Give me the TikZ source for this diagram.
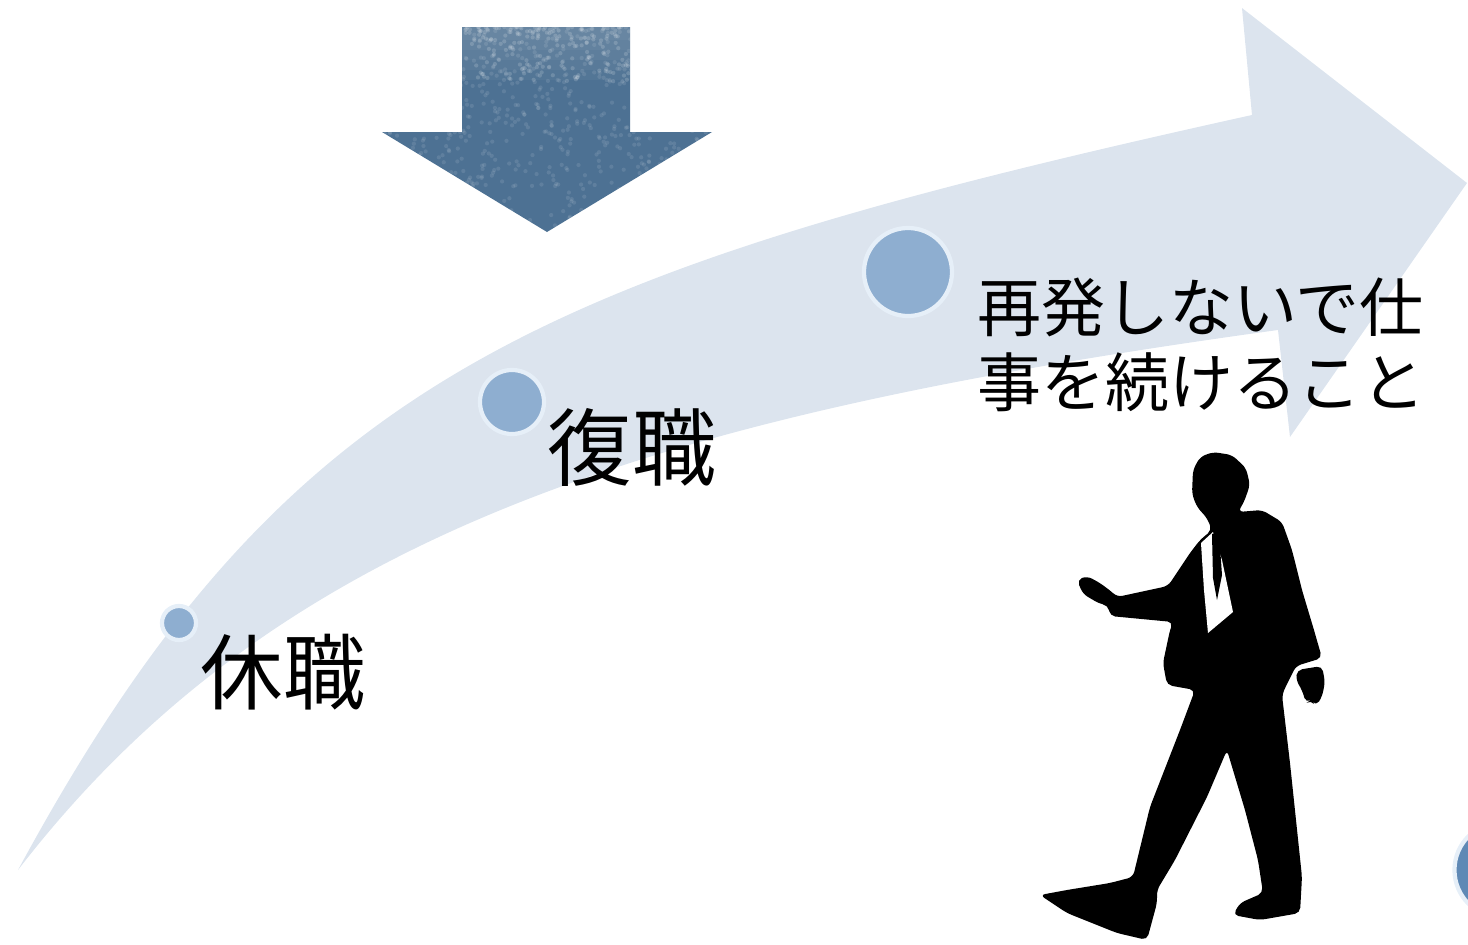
\documentclass[tikz,border=0pt]{standalone}
\usepackage{fontspec}
\newfontfamily\jpfont{Noto Sans CJK JP}
\definecolor{bandfill}{HTML}{DCE4EE}
\definecolor{dotfill}{HTML}{8EAED0}
\definecolor{dotring}{HTML}{E6EFF8}
\definecolor{steel}{HTML}{4D7193}
\definecolor{deepdot}{HTML}{5F89B5}
\begin{document}
\begin{tikzpicture}[x=0.01cm,y=-0.01cm,
  dot/.style={circle, fill=dotfill, draw=dotring, line width=1.2pt, inner sep=0pt},
  caption/.style={text=black, inner sep=0pt},
  figure/.style={fill=black, rounded corners=1.5pt},
]
\useasboundingbox (0,0) rectangle (1468,945);
\clip (0,0) rectangle (1468,945);

% curved band with its arrowhead
\fill[bandfill]
  (18,870) .. controls (285,377) and (537,273) .. (1252,115)
  -- (1242,8) -- (1467,183) -- (1290,437) -- (1278,330)
  .. controls (660,415) and (280,530) .. (18,870)
  -- cycle;

% textured down arrow, paler towards its top
\def\downarrow{(462,27) -- (630,27) -- (630,132) -- (712,132) -- (547,232) -- (382,132) -- (462,132) -- cycle}
\fill[steel] \downarrow;
\begin{scope}
  \clip \downarrow;
  \foreach \bot in {40,50,60,70,80} {
    \fill[white, opacity=0.035] (462,27) rectangle (630,\bot);
  }
  \pgfmathsetseed{11}
  \foreach \i in {1,...,700} {
    \pgfmathsetmacro\px{382+330*rnd}
    \pgfmathsetmacro\py{27+205*rnd}
    \fill[white, opacity=0.10] (\px,\py) circle[radius=0.6pt];
  }
  \foreach \i in {1,...,200} {
    \pgfmathsetmacro\px{462+168*rnd}
    \pgfmathsetmacro\py{27+55*rnd^2}
    \fill[white, opacity=0.16] (\px,\py) circle[radius=0.6pt];
  }
\end{scope}

% stage markers
\node[dot, minimum size=0.34cm] (d1) at (179,623) {};
\node[dot, minimum size=0.64cm] (d2) at (512,402) {};
\node[dot, minimum size=0.88cm] (d3) at (908,272) {};
\node[dot, fill=deepdot, minimum size=0.95cm] (d4) at (1502,870) {};

% stage labels
\node[caption, anchor=west, font=\jpfont\fontsize{23.5}{28}\selectfont] (l1) at (200,672) {休職};
\node[caption, anchor=west, font=\jpfont\fontsize{24}{28}\selectfont] (l2) at (547,447) {復職};
\node[caption, anchor=west, align=left, font=\jpfont\fontsize{18.2}{21.3}\selectfont] (l3) at (977,345) {再発しないで仕\\事を続けること};

% walking businessman
\fill[figure] (1213,452) -- (1232,455) -- (1246,468) -- (1250,485) -- (1244,502) -- (1238,512)
  -- (1262,510) -- (1282,522) -- (1292,550) -- (1302,590) -- (1314,630) -- (1322,658)
  -- (1296,666) -- (1286,686) -- (1282,695)
  -- (1290,763) -- (1302,877) -- (1300,913) -- (1260,920) -- (1233,915) -- (1240,903) -- (1263,893)
  -- (1258,860) -- (1245,810) -- (1227,750)
  -- (1207,797) -- (1175,860) -- (1157,890) -- (1157,903) -- (1147,940) -- (1117,933)
  -- (1067,913) -- (1040,895) -- (1067,890) -- (1110,883) -- (1133,877)
  -- (1150,807) -- (1180,730) -- (1195,690) -- (1167,685) -- (1163,663) -- (1170,630) -- (1173,622)
  -- (1110,616) -- (1108,605) -- (1100,604) -- (1083,594) -- (1077,580) -- (1087,576)
  -- (1100,583) -- (1112,592) -- (1117,597) -- (1168,586) -- (1190,553) -- (1200,540)
  -- (1212,530) -- (1207,518) -- (1197,507) -- (1192,494) -- (1193,470) -- (1200,457) -- cycle;
% rear hand
\fill[figure] (1297,670) -- (1322,666) -- (1325,682) -- (1322,697) -- (1316,706) -- (1311,700)
  -- (1306,703) -- (1302,690) -- (1296,680) -- cycle;
% shirt front and tie
\fill[white] (1201,543) -- (1213,532) -- (1222,560) -- (1233,612) -- (1208,633) -- (1204,590) -- cycle;
\fill[black] (1212,534) -- (1219,532) -- (1222,575) -- (1217,600) -- (1213,578) -- cycle;
\end{tikzpicture}
\end{document}
